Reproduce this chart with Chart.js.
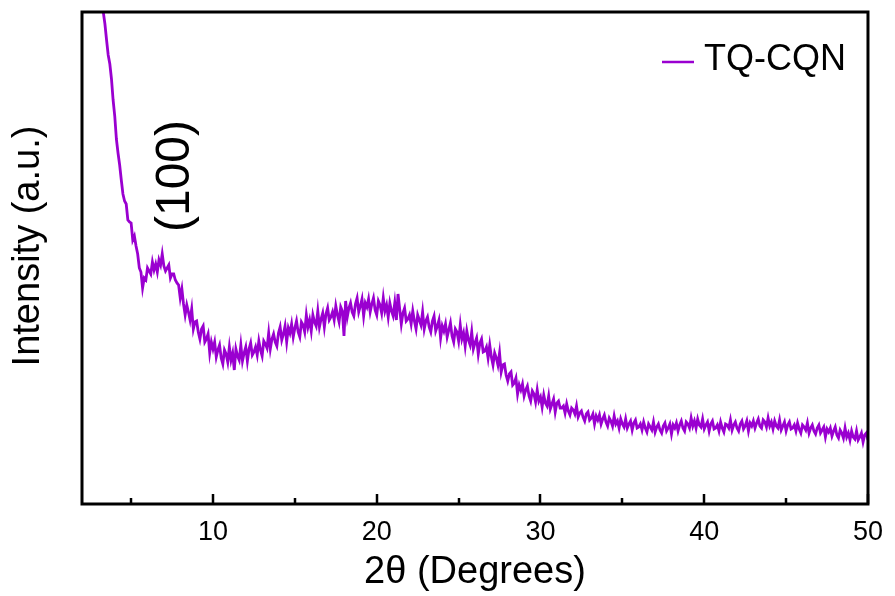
<!DOCTYPE html>
<html>
<head>
<meta charset="utf-8">
<script src="https://cdn.jsdelivr.net/npm/chart.js@4/dist/chart.umd.min.js"></script>
<style>
html,body{margin:0;padding:0;background:#fff;}
#wrap{width:895px;height:596px;position:relative;}
</style>
</head>
<body>
<div id="wrap"><canvas id="c" width="895" height="596"></canvas></div>
<script>
// 2θ (degrees), scan points
const twoTheta = [
 3.2,3.3,3.4,3.5,3.6,3.7,3.8,3.9,4.0,4.1,4.2,4.3,4.4,4.5,4.6,4.7,4.8,4.9,5.0,5.1,
 5.2,5.3,5.4,5.5,5.6,5.7,5.8,5.9,6.0,6.1,6.2,6.3,6.4,6.5,6.6,6.7,6.8,6.9,7.0,7.1,
 7.2,7.3,7.4,7.5,7.6,7.7,7.8,7.9,8.0,8.1,8.2,8.3,8.4,8.5,8.6,8.7,8.8,8.9,9.0,9.1,
 9.2,9.3,9.4,9.5,9.6,9.7,9.8,9.9,10.0,10.1,10.2,10.3,10.4,10.5,10.6,10.7,10.8,10.9,11.0,11.1,
 11.2,11.3,11.4,11.5,11.6,11.7,11.8,11.9,12.0,12.1,12.2,12.3,12.4,12.5,12.6,12.7,12.8,12.9,13.0,13.1,
 13.2,13.3,13.4,13.5,13.6,13.7,13.8,13.9,14.0,14.1,14.2,14.3,14.4,14.5,14.6,14.7,14.8,14.9,15.0,15.1,
 15.2,15.3,15.4,15.5,15.6,15.7,15.8,15.9,16.0,16.1,16.2,16.3,16.4,16.5,16.6,16.7,16.8,16.9,17.0,17.1,
 17.2,17.3,17.4,17.5,17.6,17.7,17.8,17.9,18.0,18.1,18.2,18.3,18.4,18.5,18.6,18.7,18.8,18.9,19.0,19.1,
 19.2,19.3,19.4,19.5,19.6,19.7,19.8,19.9,20.0,20.1,20.2,20.3,20.4,20.5,20.6,20.7,20.8,20.9,21.0,21.1,
 21.2,21.3,21.4,21.5,21.6,21.7,21.8,21.9,22.0,22.1,22.2,22.3,22.4,22.5,22.6,22.7,22.8,22.9,23.0,23.1,
 23.2,23.3,23.4,23.5,23.6,23.7,23.8,23.9,24.0,24.1,24.2,24.3,24.4,24.5,24.6,24.7,24.8,24.9,25.0,25.1,
 25.2,25.3,25.4,25.5,25.6,25.7,25.8,25.9,26.0,26.1,26.2,26.3,26.4,26.5,26.6,26.7,26.8,26.9,27.0,27.1,
 27.2,27.3,27.4,27.5,27.6,27.7,27.8,27.9,28.0,28.1,28.2,28.3,28.4,28.5,28.6,28.7,28.8,28.9,29.0,29.1,
 29.2,29.3,29.4,29.5,29.6,29.7,29.8,29.9,30.0,30.1,30.2,30.3,30.4,30.5,30.6,30.7,30.8,30.9,31.0,31.1,
 31.2,31.3,31.4,31.5,31.6,31.7,31.8,31.9,32.0,32.1,32.2,32.3,32.4,32.5,32.6,32.7,32.8,32.9,33.0,33.1,
 33.2,33.3,33.4,33.5,33.6,33.7,33.8,33.9,34.0,34.1,34.2,34.3,34.4,34.5,34.6,34.7,34.8,34.9,35.0,35.1,
 35.2,35.3,35.4,35.5,35.6,35.7,35.8,35.9,36.0,36.1,36.2,36.3,36.4,36.5,36.6,36.7,36.8,36.9,37.0,37.1,
 37.2,37.3,37.4,37.5,37.6,37.7,37.8,37.9,38.0,38.1,38.2,38.3,38.4,38.5,38.6,38.7,38.8,38.9,39.0,39.1,
 39.2,39.3,39.4,39.5,39.6,39.7,39.8,39.9,40.0,40.1,40.2,40.3,40.4,40.5,40.6,40.7,40.8,40.9,41.0,41.1,
 41.2,41.3,41.4,41.5,41.6,41.7,41.8,41.9,42.0,42.1,42.2,42.3,42.4,42.5,42.6,42.7,42.8,42.9,43.0,43.1,
 43.2,43.3,43.4,43.5,43.6,43.7,43.8,43.9,44.0,44.1,44.2,44.3,44.4,44.5,44.6,44.7,44.8,44.9,45.0,45.1,
 45.2,45.3,45.4,45.5,45.6,45.7,45.8,45.9,46.0,46.1,46.2,46.3,46.4,46.5,46.6,46.7,46.8,46.9,47.0,47.1,
 47.2,47.3,47.4,47.5,47.6,47.7,47.8,47.9,48.0,48.1,48.2,48.3,48.4,48.5,48.6,48.7,48.8,48.9,49.0,49.1,
 49.2,49.3,49.4,49.5,49.6,49.7,49.8,49.9,50.0
];
// Intensity (a.u.) of TQ-CQN
const intensity = [
 510,492,480,464,449,440,425,404,388,365,
 351,339,324,310,303,300,284,282,281,264,
 268,258,250,236,232,216,226,224,236,233,
 230,242,234,240,232,244,239,250,238,233,
 236,239,226,230,230,224,221,219,206,215,
 200,189,199,192,184,195,175,182,183,172,
 165,175,178,162,165,170,151,162,155,162,
 147,154,159,146,140,154,150,142,157,144,
 151,134,155,148,144,159,143,151,157,143,
 155,161,149,152,157,149,163,154,148,163,
 160,156,171,155,165,170,162,158,171,177,
 164,170,178,162,176,171,180,167,176,183,
 172,167,182,179,172,189,177,184,173,189,
 182,178,193,177,185,191,177,190,196,184,
 187,192,184,198,189,182,197,193,168,203,
 187,196,201,192,188,200,206,192,198,205,
 188,201,197,205,192,200,206,194,189,203,
 199,191,206,193,199,187,201,193,188,201,
 184,210,195,180,191,196,183,185,189,180,
 193,183,175,189,184,179,192,175,183,187,
 177,172,183,188,173,178,184,166,178,173,
 180,167,174,181,168,162,175,172,163,179,
 165,171,158,173,164,159,172,155,161,166,
 150,161,165,152,153,157,146,159,147,139,
 151,146,139,151,132,139,140,129,123,130,
 132,119,121,126,110,119,114,120,108,114,
 118,108,103,113,110,102,114,103,107,97,
 109,101,98,108,95,100,105,92,101,103,
 96,96,98,91,100,93,89,96,94,90,
 98,87,91,93,87,83,90,92,84,86,
 90,80,88,84,89,80,85,89,82,78,
 86,83,78,88,80,83,76,85,80,77,
 85,76,80,83,74,81,84,76,77,80,
 74,82,76,72,80,77,74,82,72,77,
 80,74,71,78,81,73,76,80,70,79,
 76,81,73,79,83,76,73,82,80,76,
 86,78,83,76,85,79,77,85,75,79,
 82,73,80,83,75,76,79,73,82,76,
 72,80,79,76,84,74,79,82,76,73,
 80,83,75,78,83,73,81,78,83,76,
 81,85,78,76,84,82,77,86,78,82,
 75,83,78,76,84,74,78,82,73,79,
 82,75,76,79,73,81,75,71,79,77,
 74,81,71,76,79,73,70,76,79,71,
 74,77,67,75,72,76,68,73,77,69,
 66,74,71,66,76,67,71,64,73,67,
 65,73,64,67,71,62,69,71,64
];
const seriesName = "TQ-CQN";
const xTickValues = [10,20,30,40,50];
const xTitle = "2θ (Degrees)";
const yTitle = "Intensity (a.u.)";
const peakLabel = "(100)";
const peakPos = [7.7, 328];

const lineColor = '#9A00D0';
const FONT = 'Arial, "Liberation Sans", sans-serif';

const framePlugin = {
  id: 'frame',
  afterDraw(chart) {
    const {ctx, chartArea: a, scales} = chart;
    const xs = scales.x, ys = scales.y;
    ctx.save();
    ctx.strokeStyle = '#000';
    ctx.lineWidth = 2.5;
    for (let v = 5; v <= 50; v += 5) {
      const px = Math.round(xs.getPixelForValue(v));
      const len = (v % 10 === 0) ? 10 : 6;
      ctx.beginPath();
      ctx.moveTo(px, a.bottom);
      ctx.lineTo(px, a.bottom - len);
      ctx.stroke();
    }
    ctx.lineWidth = 3;
    ctx.strokeRect(a.left, a.top, a.right - a.left, a.bottom - a.top);
    // legend
    const ds = chart.data.datasets[0];
    ctx.strokeStyle = ds.borderColor;
    ctx.lineWidth = 2.5;
    ctx.beginPath();
    ctx.moveTo(662, 62);
    ctx.lineTo(694, 62);
    ctx.stroke();
    ctx.fillStyle = '#000';
    ctx.font = '36px ' + FONT;
    ctx.textBaseline = 'alphabetic';
    ctx.textAlign = 'left';
    ctx.fillText(ds.label, 704, 70);
    // y-axis title
    ctx.save();
    ctx.translate(29, 246);
    ctx.rotate(-Math.PI / 2);
    ctx.font = '38px ' + FONT;
    ctx.textAlign = 'center';
    ctx.textBaseline = 'middle';
    ctx.fillText(yTitle, 0, 0);
    ctx.restore();
    // peak annotation
    const ax = xs.getPixelForValue(peakPos[0]);
    const ay = ys.getPixelForValue(peakPos[1]);
    ctx.translate(ax, ay);
    ctx.rotate(-Math.PI / 2);
    ctx.font = '48px ' + FONT;
    ctx.textAlign = 'center';
    ctx.textBaseline = 'middle';
    ctx.fillText(peakLabel, 0, 0);
    ctx.restore();
  }
};

new Chart(document.getElementById('c'), {
  type: 'line',
  data: {
    datasets: [{
      label: seriesName,
      data: twoTheta.map((x, i) => ({x, y: intensity[i]})),
      borderColor: lineColor,
      borderWidth: 2.8,
      pointRadius: 0,
      tension: 0,
      fill: false
    }]
  },
  options: {
    responsive: false,
    animation: false,
    events: [],
    layout: {padding: {top: 12, right: 22, left: 0, bottom: 0}},
    plugins: {legend: {display: false}, tooltip: {enabled: false}},
    scales: {
      x: {
        type: 'linear',
        min: 2, max: 50,
        afterBuildTicks(scale) { scale.ticks = xTickValues.map(v => ({value: v})); },
        afterFit(scale) { scale.height = 92; },
        grid: {display: false, drawTicks: false},
        border: {display: false},
        ticks: {color: '#000', font: {family: FONT, size: 27}, padding: 12, maxRotation: 0, autoSkip: false},
        title: {display: true, text: xTitle, color: '#000', font: {family: FONT, size: 38}, padding: {top: 0, bottom: 1}}
      },
      y: {
        min: 0, max: 492,
        afterFit(scale) { scale.width = 82; },
        grid: {display: false, drawTicks: false},
        border: {display: false},
        ticks: {display: false},
        title: {display: false}
      }
    }
  },
  plugins: [framePlugin]
});
</script>
</body>
</html>
